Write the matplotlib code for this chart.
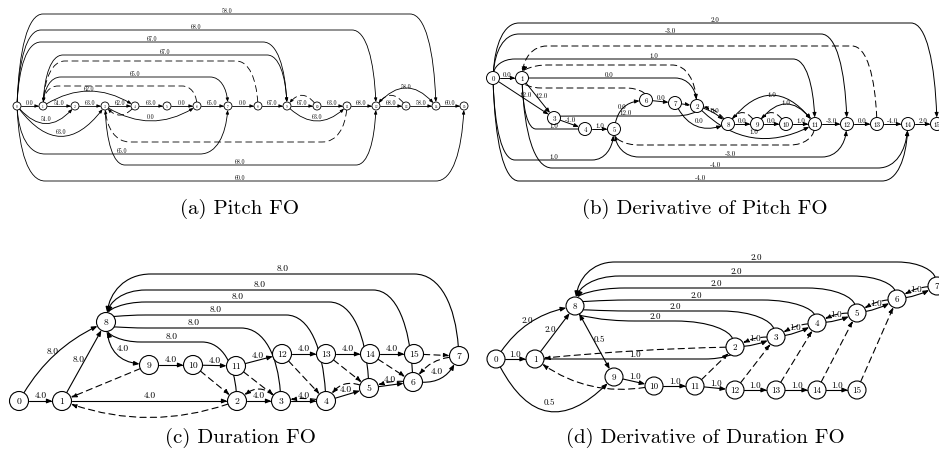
import numpy as np
import matplotlib
matplotlib.use('Agg')
from matplotlib import pyplot as plt
from matplotlib.patches import Circle, FancyArrowPatch
from matplotlib.path import Path

plt.rcParams['font.family'] = ['cmr10', 'DejaVu Serif']
plt.rcParams['lines.scale_dashes'] = False
plt.rcParams['axes.unicode_minus'] = False

# ---------------- data ----------------
# (a) Pitch FO : chain labels i->i+1, extra forward jumps, suffix links
pitch_chain = ['0.0', '51.0', '63.0', '62.0', '63.0', '0.0', '65.0', '0.0',
               '67.0', '67.0', '63.0', '68.0', '68.0', '58.0', '60.0']
pitch_jumps = [(0, 2, '51.0'), (0, 3, '63.0'), (1, 4, '62.0'), (3, 6, '0.0'),
               (1, 7, '65.0'), (0, 7, '65.0'), (0, 9, '67.0'), (1, 9, '67.0'),
               (9, 11, '63.0'), (0, 12, '68.0'), (3, 12, '68.0'), (0, 14, '58.0'),
               (12, 14, '58.0'), (0, 15, '60.0')]
pitch_links = [(8, 1), (6, 1), (4, 3), (11, 3), (10, 9), (13, 12)]

# (b) Derivative of Pitch FO
dpitch_chain = ['0.0', '0.0', '12.0', '-1.0', '1.0', '0.0', '0.0', '0.0',
                '0.0', '0.0', '1.0', '-3.0', '0.0', '-4.0', '2.0']
dpitch_jumps = [(0, 3, '12.0'), (1, 3, '12.0'), (1, 4, '1.0'), (0, 5, '1.0'),
                (2, 8, '0.0'), (8, 11, '1.0'), (9, 11, '1.0'), (2, 11, '1.0'),
                (0, 11, '1.0'), (0, 12, '-3.0'), (5, 12, '-3.0'), (1, 14, '-4.0'),
                (0, 14, '-4.0'), (0, 15, '2.0')]
dpitch_links = [(13, 1), (2, 1), (6, 1), (11, 5), (7, 2), (8, 2), (9, 8), (10, 9)]

# (c) Duration FO
dur_chain = ['4.0', '4.0', '4.0', '4.0', '4.0', '4.0', '4.0', '8.0',
             '4.0', '4.0', '4.0', '4.0', '4.0', '4.0', '4.0']
dur_jumps = [(0, 8, '8.0'), (1, 8, '8.0'), (2, 8, '8.0'), (3, 8, '8.0'),
             (4, 8, '8.0'), (5, 8, '8.0'), (6, 8, '8.0')]
dur_links = [(9, 1), (2, 1), (10, 2), (11, 3), (12, 4), (13, 5), (14, 6), (15, 7),
             (3, 2), (4, 3), (5, 4), (6, 5), (7, 6)]

# (d) Derivative of Duration FO
ddur_chain = ['1.0', '1.0', '1.0', '1.0', '1.0', '1.0', '1.0', '2.0',
              '0.5', '1.0', '1.0', '1.0', '1.0', '1.0', '1.0']
ddur_jumps = [(0, 8, '2.0'), (1, 8, '2.0'), (0, 9, '0.5'), (2, 8, '2.0'),
              (3, 8, '2.0'), (4, 8, '2.0'), (5, 8, '2.0'), (6, 8, '2.0')]
ddur_links = [(2, 1), (10, 1), (11, 2), (12, 3), (13, 4), (14, 5), (15, 6),
              (3, 2), (4, 3), (5, 4), (6, 5), (7, 6)]

captions = ['(a) Pitch FO', '(b) Derivative of Pitch FO',
            '(c) Duration FO', '(d) Derivative of Duration FO']

# ---------------- layout (pixels) ----------------
pos_a = {i: (x, 107) for i, x in enumerate(
    [17, 43, 75, 105, 135, 167, 197, 228, 258, 287, 317, 347, 376, 406, 436, 464])}
pos_b = {0: (493, 79), 1: (522, 79), 2: (697, 107), 3: (554, 119), 4: (585, 130),
         5: (614, 130), 6: (646, 101), 7: (675, 104), 8: (728, 125), 9: (757, 125),
         10: (786, 125), 11: (815, 125), 12: (847, 125), 13: (877, 125),
         14: (908, 125), 15: (937, 125)}
pos_c = {0: (19, 402), 1: (62, 402), 2: (237, 402), 3: (281, 402), 4: (326, 402),
         5: (369, 389), 6: (413, 383), 7: (459, 357), 8: (106, 323), 9: (149, 366),
         10: (193, 366), 11: (236, 367), 12: (282, 355), 13: (326, 355),
         14: (370, 355), 15: (414, 355)}
pos_d = {0: (496, 360), 1: (535, 360), 2: (735, 348), 3: (776, 338), 4: (817, 324),
         5: (857, 314), 6: (897, 300), 7: (937, 287), 8: (575, 307), 9: (614, 378),
         10: (654, 387), 11: (695, 387), 12: (735, 391), 13: (776, 391),
         14: (817, 391), 15: (857, 391)}

# routes: ('bend', amount>0 bulges up) or ('arc', level_y, corner)
route_a = {(0, 2): ('bend', -0.55), (0, 3): ('bend', -0.65), (1, 4): ('bend', 0.3),
           (3, 6): ('bend', -0.3), (1, 7): ('arc', 78, 18), (0, 7): ('arc', 155, 28),
           (0, 9): ('arc', 43, 24), (1, 9): ('arc', 56, 20), (9, 11): ('bend', -0.45),
           (0, 12): ('arc', 31, 24), (3, 12): ('arc', 166, 20), (0, 14): ('arc', 15, 26),
           (12, 14): ('bend', 0.55), (0, 15): ('arc', 182, 28), (8, 1): ('arc', 62, 22),
           (6, 1): ('arc', 87, 15), (4, 3): ('bend', -0.5), (11, 3): ('arc', 143, 25),
           (10, 9): ('bend', 0.6), (13, 12): ('bend', 0.6)}
route_b = {(1, 2): ('arc', 79, 22), (2, 3): ('arc', 117, 22), (5, 6): ('bend', 0.35),
           (7, 8): ('bend', -0.4), (2, 8): ('bend', 0.1), (1, 4): ('arc', 130, 14),
           (0, 5): ('arc', 161, 22), (5, 12): ('arc', 158, 25), (1, 14): ('arc', 169, 30),
           (0, 14): ('arc', 182, 26), (0, 15): ('arc', 24, 26), (0, 12): ('arc', 35, 26),
           (0, 11): ('arc', 60, 22), (8, 11): ('bend', 0.6), (9, 11): ('bend', 0.6),
           (2, 11): ('bend', -0.35), (13, 1): ('arc', 47, 25), (2, 1): ('arc', 66, 25),
           (6, 1): ('arc', 89, 20), (11, 5): ('arc', 146, 25), (8, 2): ('bend', 0.2),
           (9, 8): ('bend', 0.6), (10, 9): ('bend', 0.6)}
route_c = {(6, 7): ('bend', -0.3), (7, 8): ('arc', 275, 45), (8, 9): ('bend', -0.4),
           (0, 8): ('bend', 0.15), (2, 8): ('arc', 343, 35), (3, 8): ('arc', 329, 40),
           (4, 8): ('arc', 316, 40), (5, 8): ('arc', 303, 40), (6, 8): ('arc', 291, 40),
           (2, 1): ('bend', -0.17), (3, 2): ('bend', 0.4), (4, 3): ('bend', 0.08),
           (5, 4): ('bend', 0.35), (6, 5): ('bend', 0.1), (7, 6): ('bend', 0.2)}
route_d = {(1, 2): ('arc', 360, 30), (2, 3): ('bend', -0.08), (3, 4): ('bend', -0.08),
           (4, 5): ('bend', -0.08), (5, 6): ('bend', -0.08), (6, 7): ('bend', -0.08),
           (7, 8): ('arc', 263, 40), (0, 9): ('bend', -0.67), (0, 8): ('bend', 0.2),
           (2, 8): ('arc', 322, 60), (3, 8): ('arc', 312, 55), (4, 8): ('arc', 301, 55),
           (5, 8): ('arc', 289, 50), (6, 8): ('arc', 277, 45), (2, 1): ('bend', 0.02),
           (10, 1): ('bend', -0.2), (3, 2): ('bend', 0.12), (4, 3): ('bend', 0.12),
           (5, 4): ('bend', 0.12), (6, 5): ('bend', 0.12), (7, 6): ('bend', 0.12)}

panels = [
    dict(chain=pitch_chain, jumps=pitch_jumps, links=pitch_links, pos=pos_a,
         route=route_a, r=4, efs=4.3, nfs=2.5, ms=4, lw=0.6),
    dict(chain=dpitch_chain, jumps=dpitch_jumps, links=dpitch_links, pos=pos_b,
         route=route_b, r=6.5, efs=5, nfs=5, ms=5, lw=0.7),
    dict(chain=dur_chain, jumps=dur_jumps, links=dur_links, pos=pos_c,
         route=route_c, r=9.5, efs=6.8, nfs=7, ms=6, lw=0.8),
    dict(chain=ddur_chain, jumps=ddur_jumps, links=ddur_links, pos=pos_d,
         route=route_d, r=9, efs=6.5, nfs=6.5, ms=6, lw=0.8),
]
caption_xy = [(240, 209), (705, 209), (240, 438), (705, 438)]


def up_normal(p0, p1):
    d = p1 - p0
    n = np.array([d[1], -d[0]]) / np.hypot(*d)
    if n[1] > 0 or (n[1] == 0 and n[0] < 0):
        n = -n
    return n


def make_path(p0, p1, route):
    M, L3, C3, C4 = Path.MOVETO, Path.LINETO, Path.CURVE3, Path.CURVE4
    if route[0] == 'bend':
        n = up_normal(p0, p1)
        c = (p0 + p1) / 2 + route[1] * np.hypot(*(p1 - p0)) * n
        return [p0, c, p1], [M, C3, C3], 0.25 * p0 + 0.5 * c + 0.25 * p1, n
    if route[0] == 'arc':
        h, dx = route[1], route[2]
        s = 1 if p1[0] >= p0[0] else -1
        a = np.array([p0[0] + s * dx, h])
        b = np.array([p1[0] - s * dx, h])
        # rounded corners, close to a quarter ellipse
        c1 = np.array([p0[0] + s * dx * 0.08, p0[1] + (h - p0[1]) * 0.6])
        c2 = np.array([p0[0] + s * dx * 0.4, h])
        c3 = np.array([p1[0] - s * dx * 0.4, h])
        c4 = np.array([p1[0] - s * dx * 0.08, p1[1] + (h - p1[1]) * 0.6])
        return ([p0, c1, c2, a, b, c3, c4, p1], [M, C4, C4, C4, L3, C4, C4, C4],
                (a + b) / 2, np.array([0.0, -1.0]))
    return [p0, p1], [M, L3], (p0 + p1) / 2, up_normal(p0, p1)


def draw_edge(ax, p, i, j, label, dashed):
    p0 = np.array(p['pos'][i], float)
    p1 = np.array(p['pos'][j], float)
    verts, codes, lab, n = make_path(p0, p1, p['route'].get((i, j), ('line',)))
    verts = [np.array(v, float) for v in verts]
    r = p['r']
    d0 = verts[1] - p0
    d1 = verts[-2] - p1
    verts[0] = p0 + r * d0 / max(np.hypot(*d0), 1e-9)
    verts[-1] = p1 + r * d1 / max(np.hypot(*d1), 1e-9)
    arr = FancyArrowPatch(path=Path(np.array(verts), codes),
                          arrowstyle='-|>,head_length=0.55,head_width=0.22',
                          mutation_scale=p['ms'], lw=p['lw'], color='black',
                          linestyle=(0, (4.5, 3)) if dashed else '-', zorder=2)
    ax.add_patch(arr)
    if label:
        q = lab + n * p['efs'] * 0.85
        ax.text(q[0], q[1], label, fontsize=p['efs'], ha='center', va='center',
                zorder=5)


fig = plt.figure(figsize=(9.39, 4.56), dpi=100)
ax = fig.add_axes([0, 0, 1, 1])
ax.set_xlim(0, 939)
ax.set_ylim(456, 0)
ax.axis('off')

for p in panels:
    for k, lab in enumerate(p['chain']):
        draw_edge(ax, p, k, k + 1, lab, False)
    for i, j, lab in p['jumps']:
        draw_edge(ax, p, i, j, lab, False)
    for i, j in p['links']:
        draw_edge(ax, p, i, j, None, True)
    for k, (x, y) in p['pos'].items():
        ax.add_patch(Circle((x, y), p['r'], fc='white', ec='black', lw=p['lw'], zorder=3))
        ax.text(x, y, str(k), fontsize=p['nfs'], ha='center', va='center', zorder=4)

for (x, y), cap in zip(caption_xy, captions):
    ax.text(x, y, cap, fontsize=15, ha='center', va='center')

fig.savefig('out.png', dpi=100)
